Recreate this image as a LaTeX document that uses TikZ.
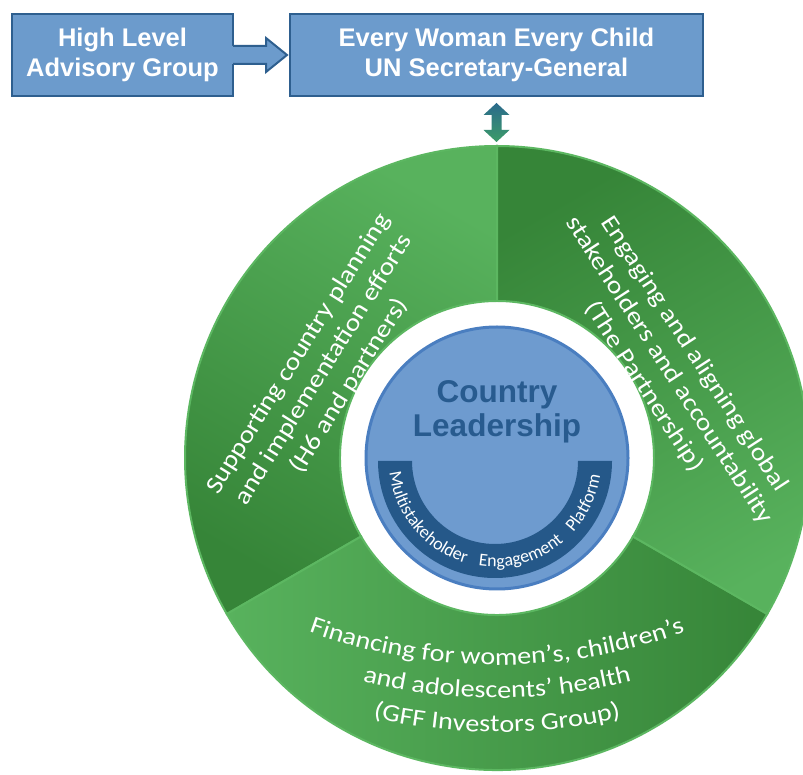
\documentclass[tikz,border=0pt]{standalone}
\usepackage{fontspec}
\setmainfont{Carlito}
\newfontfamily\arialfont{Liberation Sans}
\newfontfamily\ringfont[FakeStretch=1.15]{Carlito}
\usetikzlibrary{decorations.text}

\definecolor{boxblue}{HTML}{6C9BCC}
\definecolor{boxline}{HTML}{2E5F8F}
\definecolor{circblue}{HTML}{6E9BCF}
\definecolor{circline}{HTML}{4A7EC0}
\definecolor{bandblue}{HTML}{255889}
\definecolor{textblue}{HTML}{285B8F}
\definecolor{greenlight}{HTML}{58B25D}
\definecolor{greendark}{HTML}{368538}
\definecolor{greenline}{HTML}{5CB761}
\definecolor{arrowtop}{HTML}{2B6A8C}
\definecolor{arrowbot}{HTML}{3C9C68}

\begin{document}
\begin{tikzpicture}[x=1pt,y=1pt,
    topbox/.style={rectangle,draw=boxline,line width=2.5pt,fill=boxblue,text=white,
      align=center,inner sep=0pt,outer sep=0pt,minimum height=82pt,
      font=\arialfont\bfseries\fontsize{25.5}{30}\selectfont},
    ringpart/.style={draw=greenline,line width=2pt,top color=greendark,bottom color=greenlight},
    ringtext/.style={text=white,align=center,font=\ringfont\fontsize{24.5}{30}\selectfont}]
   \useasboundingbox[fill=white] (0,0) rectangle (803,774);
   \coordinate (ctr) at (497,316);
   % top boxes
   \node (hlag) at (122.5,719) [topbox,minimum width=221pt] {High Level\\Advisory Group};
   \node (ewec) at (496.5,719) [topbox,minimum width=413pt] {Every Woman Every Child\\UN Secretary-General};
   \fill[boxblue] ([shift={(-2,9)}]hlag.east) -- ++(35,0) -- ++(0,8) -- ([xshift=-3]ewec.west)
      -- ++(-21,-17) -- ++(0,8) -- ++(-35,0) -- cycle;
   \draw[boxline,line width=2pt] ([yshift=9]hlag.east) -- ++(33,0) -- ++(0,8) -- ([xshift=-3]ewec.west)
      -- ++(-21,-17) -- ++(0,8) -- ++(-33,0);
   \shade[top color=arrowtop,bottom color=arrowbot] ([yshift=-7]ewec.south) -- ++(13,-12) -- ++(-8,0)
      -- ++(0,-15) -- ++(8,0) -- ++(-13,-12) -- ++(-13,12) -- ++(8,0) -- ++(0,15) -- ++(-8,0) -- cycle;
   % ring
   \foreach \a/\b/\m in {90/210/150,210/330/270,330/450/30}
      \shadedraw[ringpart,shading angle=\m]
         ([shift={(\a:312)}]ctr) arc[start angle=\a,end angle=\b,radius=312]
         -- ([shift={(\b:157)}]ctr) arc[start angle=\b,end angle=\a,radius=157] -- cycle;
   \node (plan) at ([shift={(153:194)}]ctr) [ringtext,rotate=58]
      {Supporting country planning\\and implementation efforts\\(H6 and partners)};
   \node (engage) at ([shift={(27:193)}]ctr) [ringtext,rotate=-57]
      {Engaging and aligning global\\stakeholders and accountability\\(The Partnership)};
   \coordinate (fin1) at ([yshift=343]ctr);
   \coordinate (fin2) at ([yshift=310]ctr);
   \coordinate (fin3) at ([yshift=276]ctr);
   \path[decorate,decoration={text along path,text align=center,text color=white,
      text={|\ringfont\fontsize{24.5}{30}\selectfont|Financing for women’s, children’s}}]
      ([shift={(245:550)}]fin1) arc[start angle=245,end angle=295,radius=550];
   \path[decorate,decoration={text along path,text align=center,text color=white,
      text={|\ringfont\fontsize{24.5}{30}\selectfont|and adolescents’ health}}]
      ([shift={(245:550)}]fin2) arc[start angle=245,end angle=295,radius=550];
   \path[decorate,decoration={text along path,text align=center,text color=white,
      text={|\ringfont\fontsize{24.5}{30}\selectfont|(GFF Investors Group)}}]
      ([shift={(245:550)}]fin3) arc[start angle=245,end angle=295,radius=550];
   % centre
   \node (lead) at (ctr) [circle,minimum size=262pt,inner sep=0pt,fill=circblue,draw=circline,line width=3pt] {};
   \coordinate (bandc) at ([shift={(-2,-3)}]ctr);
   \fill[bandblue] ([shift={(180:117)}]bandc) arc[start angle=180,end angle=360,radius=117]
      -- ([shift={(0:83)}]bandc) arc[start angle=360,end angle=180,radius=83] -- cycle;
   \path[decorate,decoration={text along path,text align={fit to path stretching spaces},text color=white,
      text={|\fontsize{18}{20}\selectfont|Multistakeholder Engagement Platform}}]
      ([shift={(186:106)}]bandc) arc[start angle=186,end angle=352,radius=106];
   \node (title) at ([yshift=46]ctr) [text=textblue,align=center,
      font=\arialfont\bfseries\fontsize{31.5}{34}\selectfont] {Country\\Leadership};
\end{tikzpicture}
\end{document}
